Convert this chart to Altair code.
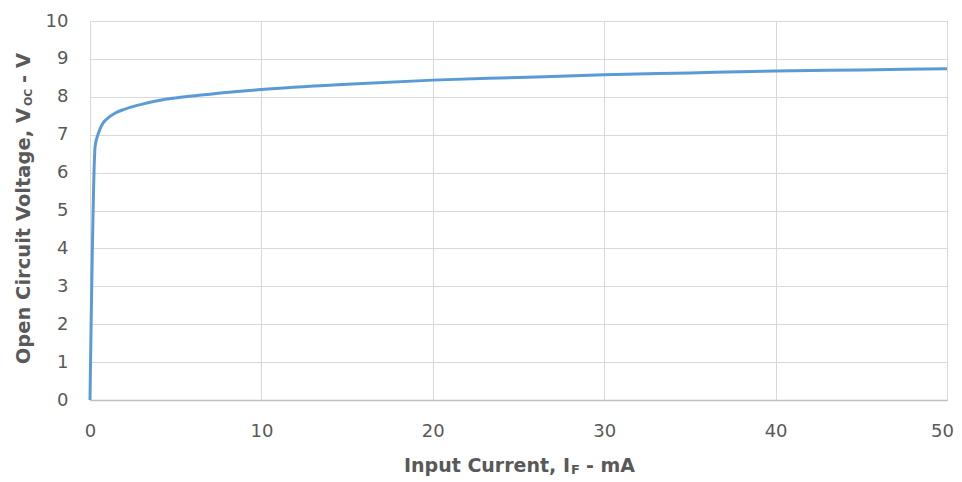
import altair as alt
import pandas as pd

# Data
current_ma = [0, 0.3, 0.5, 0.75, 1, 1.5, 2, 3, 4, 5, 7, 10, 15, 20, 25, 30, 35, 40, 45, 50]
voc_v = [0, 6.7, 7.05, 7.3, 7.42, 7.58, 7.67, 7.8, 7.9, 7.97, 8.07, 8.19, 8.33, 8.44, 8.51, 8.58, 8.63, 8.68, 8.71, 8.74]
x_ticks = [0, 10, 20, 30, 40, 50]
y_ticks = [0, 1, 2, 3, 4, 5, 6, 7, 8, 9, 10]
x_title_parts = ["Input Current, I", "F", "- mA"]
y_title_parts = ["Open Circuit Voltage, V", "OC", "- V"]

W, H = 857, 379
FONT = "DejaVu Sans"
GRAY = "#595959"

df = pd.DataFrame({"I": current_ma, "V": voc_v})

line = alt.Chart(df).mark_line(color="#5B9BD5", strokeWidth=3, interpolate="monotone").encode(
    x=alt.X("I:Q", scale=alt.Scale(domain=[0, 50], nice=False),
            axis=alt.Axis(values=x_ticks, title=None, grid=True, gridColor="#D9D9D9",
                          domainColor="#BFBFBF", domainWidth=1.5, ticks=False, labelFlush=False,
                          labelOffset={"condition": {"test": "datum.value == 50", "value": -5}, "value": 0},
                          labelFont=FONT, labelFontSize=18, labelColor=GRAY, labelPadding=22)),
    y=alt.Y("V:Q", scale=alt.Scale(domain=[0, 10], nice=False),
            axis=alt.Axis(values=y_ticks, title=None, grid=True, gridColor="#D9D9D9",
                          domain=False, ticks=False, labelFlush=False,
                          labelFont=FONT, labelFontSize=18, labelColor=GRAY, labelPadding=22)),
)

def txt(s, x, y, size, align, angle=0):
    return alt.Chart(pd.DataFrame({"t": [s]})).mark_text(
        font=FONT, fontSize=size, fontWeight="bold", color=GRAY, align=align,
        baseline="alphabetic", angle=angle
    ).encode(text="t:N", x=alt.value(x), y=alt.value(y))

# x title pieces
xa = 480
xb = H + 72
xt = [
    txt(x_title_parts[0], xa, xb, 19, "right"),
    txt(x_title_parts[1], xa + 1, xb + 2, 13, "left"),
    txt(x_title_parts[2], xa + 16, xb, 19, "left"),
]
# y title pieces (rotated, reading upwards)
ya = 87
yb = -60
yt = [
    txt(y_title_parts[0], yb, ya, 19.5, "right", 270),
    txt(y_title_parts[1], yb + 2, ya - 2, 11, "left", 270),
    txt(y_title_parts[2], yb, ya - 25, 19.5, "left", 270),
]

chart = alt.layer(line, *xt, *yt).properties(
    width=W, height=H,
    autosize=alt.AutoSizeParams(type="none"),
    padding={"left": 82, "top": 13, "right": 7, "bottom": 77},
).configure_view(stroke=None).configure(background="white")

chart.save("out.html", embed_options={"renderer": "svg", "actions": False})
